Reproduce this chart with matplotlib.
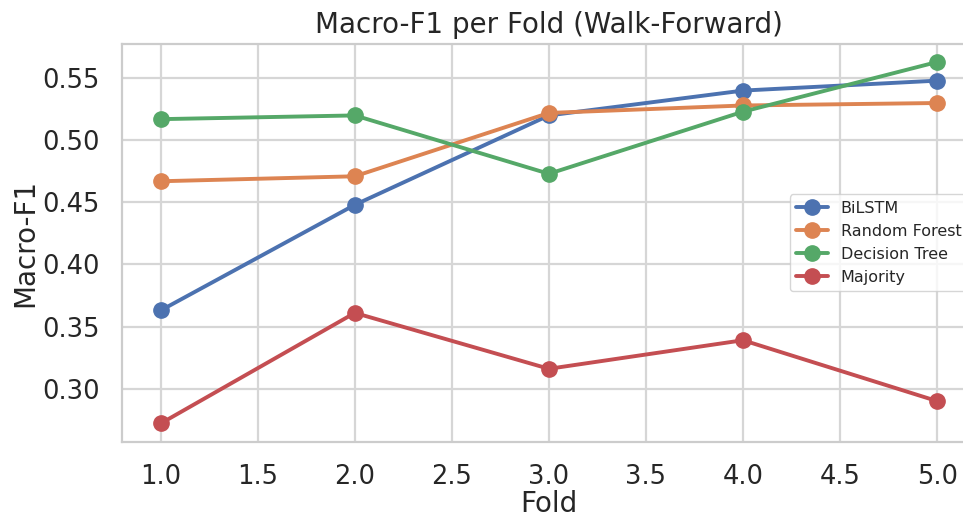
import matplotlib
matplotlib.use('Agg')
import matplotlib.pyplot as plt
import seaborn as sns

folds = [1, 2, 3, 4, 5]
bilstm = [0.363, 0.448, 0.520, 0.540, 0.548]
random_forest = [0.467, 0.471, 0.522, 0.528, 0.530]
decision_tree = [0.517, 0.520, 0.473, 0.523, 0.563]
majority = [0.272, 0.361, 0.316, 0.339, 0.290]

sns.set_theme(style='whitegrid')
plt.rcParams['font.family'] = ['DejaVu Sans']

fig = plt.figure(figsize=(9.63, 5.17), dpi=100)
# the reference is cropped on the right, so the axes run past the figure edge
ax = fig.add_axes([0.1266, 0.146, 0.8868, 0.769])

colors = sns.color_palette('deep')
kw = dict(marker='o', linewidth=2.8, markersize=11)
ax.plot(folds, bilstm, color=colors[0], label='BiLSTM', **kw)
ax.plot(folds, random_forest, color=colors[1], label='Random Forest', **kw)
ax.plot(folds, decision_tree, color=colors[2], label='Decision Tree', **kw)
ax.plot(folds, majority, color=colors[3], label='Majority', **kw)

ax.grid(linewidth=1.6, color='#d6d6d6')
for s in ax.spines.values():
    s.set_linewidth(1.6)
    s.set_color('#cccccc')

ax.tick_params(labelsize=18.5, colors='#262626', pad=10)
ax.set_title('Macro-F1 per Fold (Walk-Forward)', fontsize=20, color='#262626', pad=8)
ax.set_xlabel('Fold', fontsize=20, color='#262626', labelpad=0)
ax.set_ylabel('Macro-F1', fontsize=20, color='#262626', labelpad=2)
ax.legend(loc='center right', fontsize=11.5)

fig.savefig('out.png', dpi=100)
